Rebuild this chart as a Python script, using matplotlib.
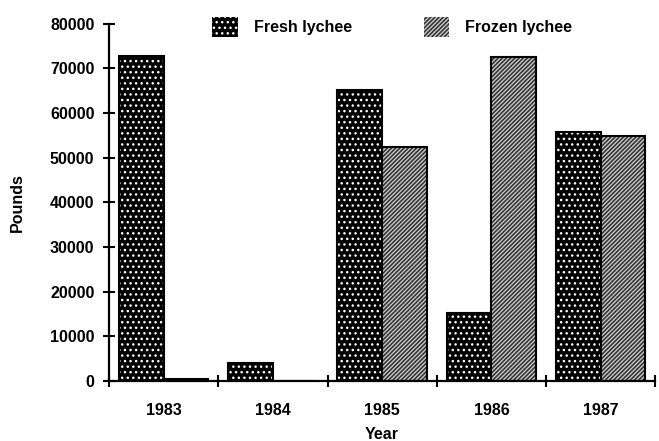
import numpy as np
import matplotlib.pyplot as plt
from matplotlib.patches import Patch

years = ["1983", "1984", "1985", "1986", "1987"]
fresh = [72800, 4000, 65200, 15200, 55800]
frozen = [400, 0, 52400, 72600, 54900]

plt.rcParams['font.family'] = ['Liberation Sans', 'DejaVu Sans']
plt.rcParams['font.weight'] = 'bold'
plt.rcParams['hatch.linewidth'] = 1.0

fig = plt.figure(figsize=(6.59, 4.41), dpi=100)
ax = fig.add_axes([0.1654, 0.136, 0.829, 0.81])

x = np.arange(len(years))
w = 0.41

fresh_style = dict(facecolor='black', edgecolor='white', hatch='...', linewidth=0)
frozen_style = dict(facecolor='#303030', edgecolor='#c8c8c8', hatch='////////', linewidth=0)

# fill with white texture, then black outline on top
ax.bar(x - w / 2, fresh, w, **fresh_style)
ax.bar(x - w / 2, fresh, w, fill=False, edgecolor='black', linewidth=1.5)
ax.bar(x + w / 2, frozen, w, **frozen_style)
ax.bar(x + w / 2, frozen, w, fill=False, edgecolor='black', linewidth=1.5)

ax.set_xlim(-0.5, 4.5)
ax.set_ylim(0, 80000)
ax.set_yticks(np.arange(0, 80001, 10000))
ax.set_xticks(x)
ax.set_xticklabels(years)
ax.set_xticks(np.arange(-0.5, 4.6, 1), minor=True)

for s in ['top', 'right']:
    ax.spines[s].set_visible(False)
for s in ['left', 'bottom']:
    ax.spines[s].set_linewidth(1.6)

ax.tick_params(axis='y', direction='inout', length=9, width=1.5, labelsize=11.5, pad=6)
ax.tick_params(axis='x', which='major', length=0, labelsize=11.5, pad=16)
ax.tick_params(axis='x', which='minor', direction='inout', length=9, width=1.5)

ax.set_ylabel('Pounds', fontsize=11.5, fontweight='bold', labelpad=18)
ax.set_xlabel('Year', fontsize=11.5, fontweight='bold', labelpad=6)

handles = [Patch(**fresh_style), Patch(**frozen_style)]
fig.legend(handles, ['Fresh lychee', 'Frozen lychee'], loc='upper left',
           bbox_to_anchor=(0.3, 0.995), ncol=2, frameon=False, fontsize=11.5,
           handlelength=1.6, handleheight=1.6, columnspacing=4.5, handletextpad=1.0)

fig.savefig('out.png', dpi=100)
